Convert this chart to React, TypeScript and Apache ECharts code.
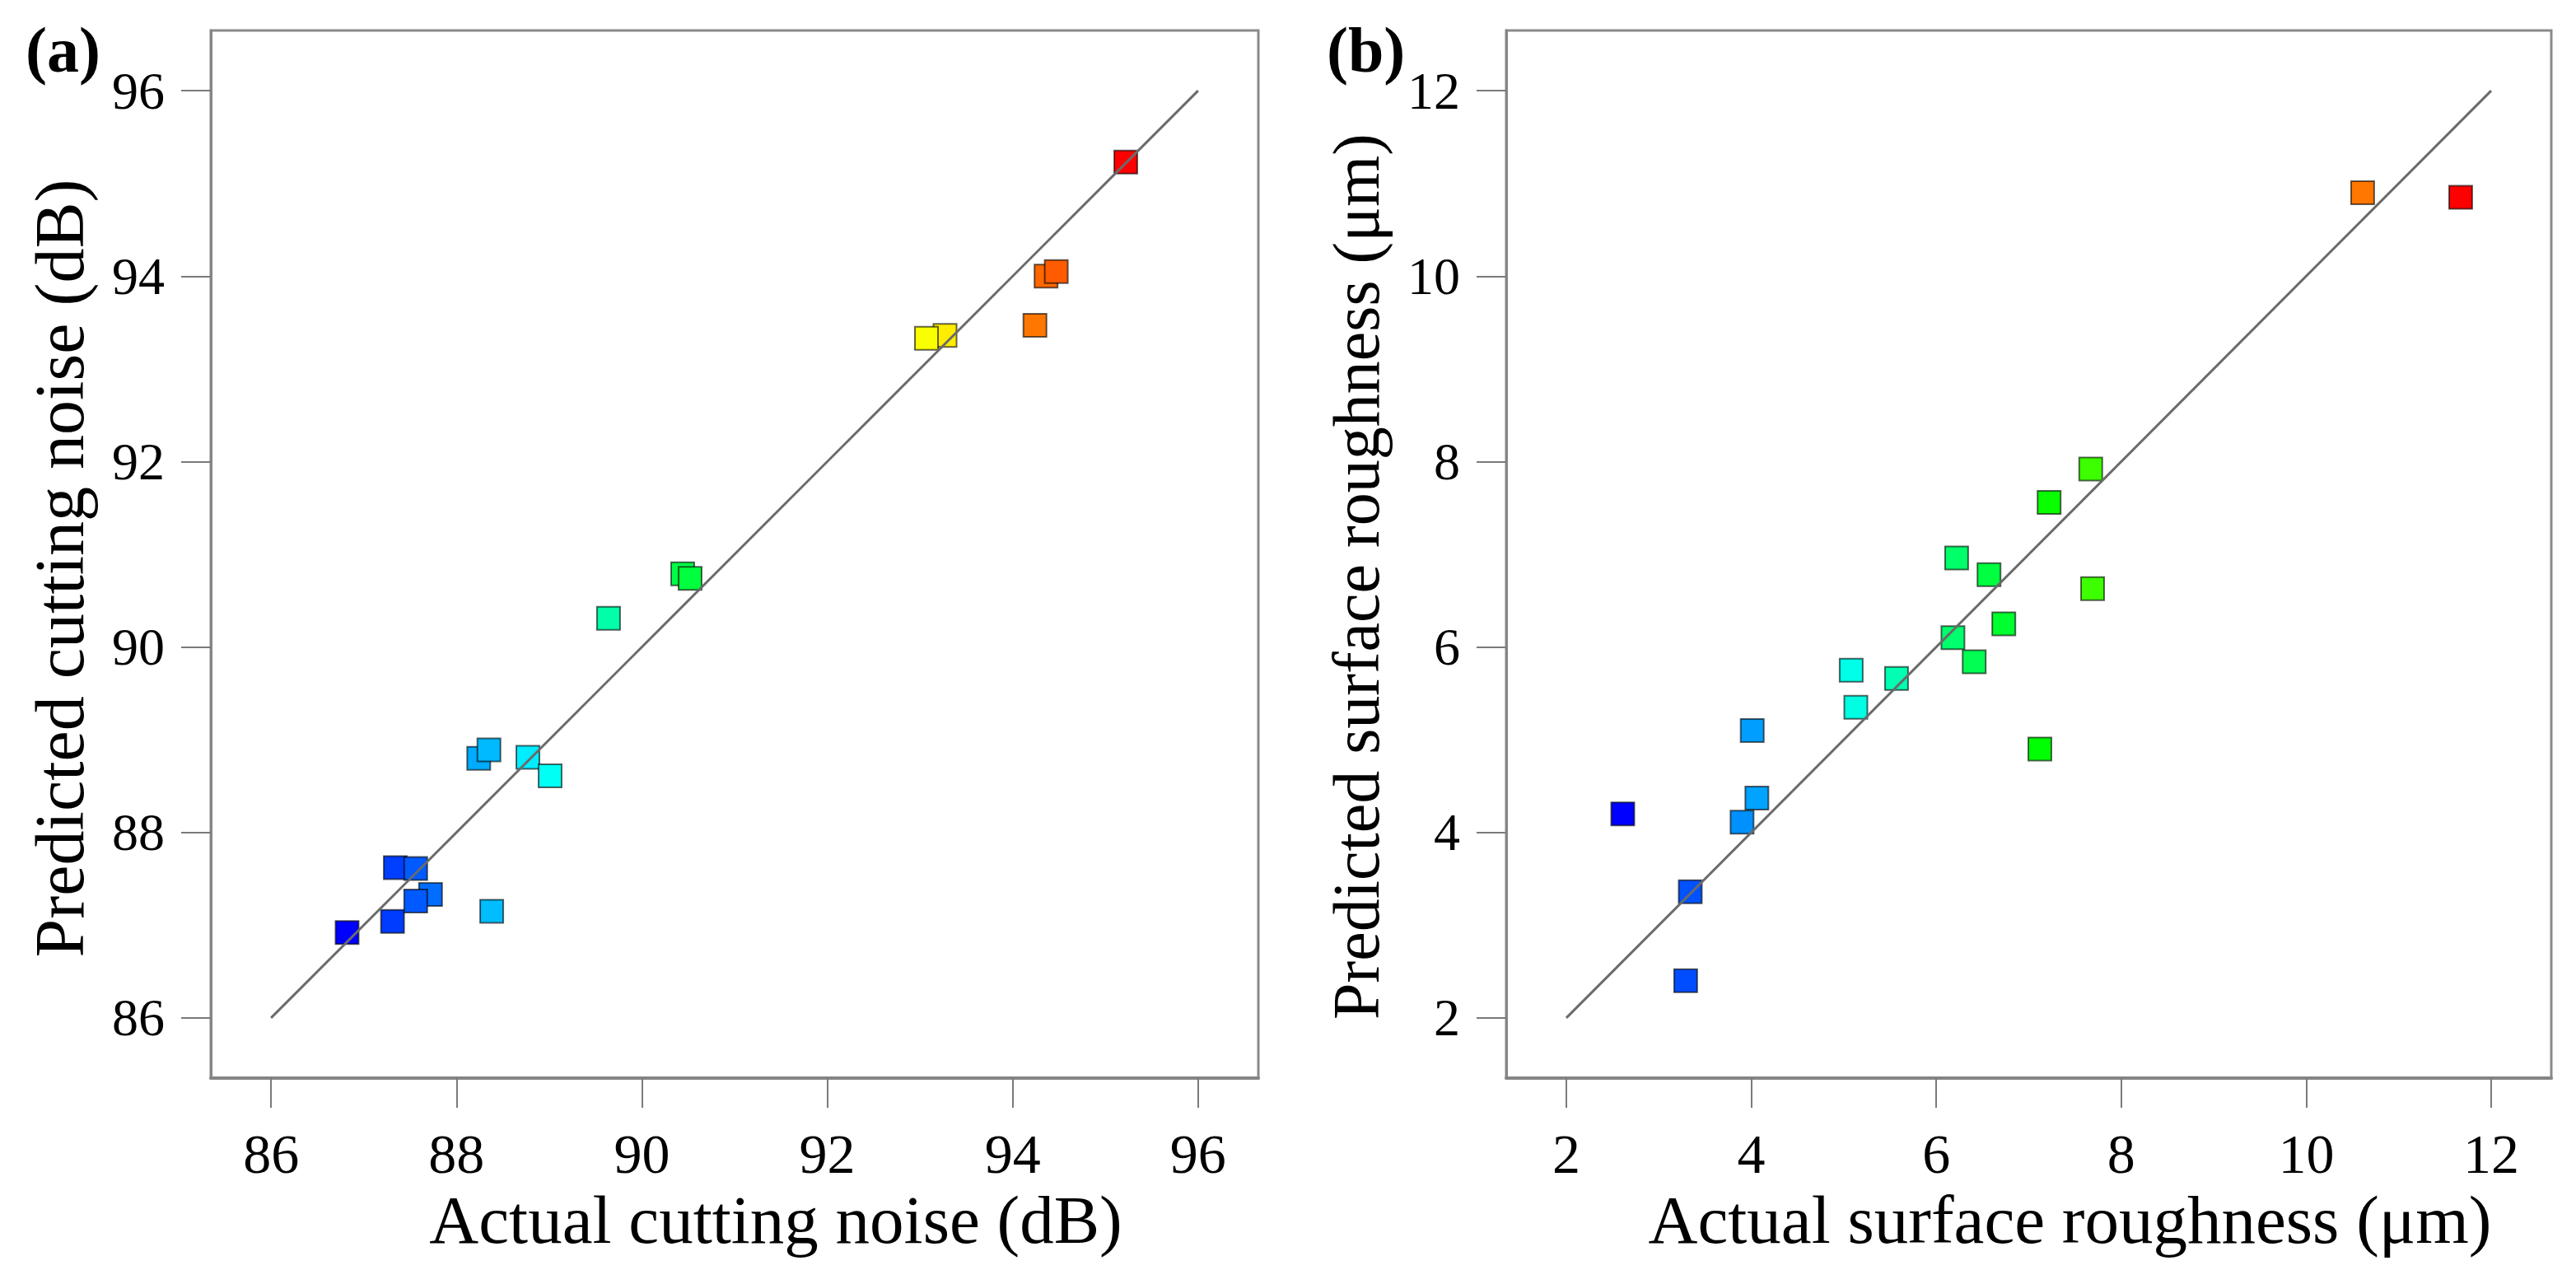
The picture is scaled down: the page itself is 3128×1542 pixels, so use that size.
import React, { useEffect, useRef } from "react";
import * as echarts from "echarts";

// Panel (a): cutting noise (dB)
const actualNoise = [86.82, 87.31, 87.34, 87.56, 87.72, 87.56, 88.38, 88.24, 88.35, 88.77, 89.01, 89.64, 90.44, 90.52, 93.27, 93.07, 94.24, 94.36, 94.47, 95.22];
const predictedNoise = [86.92, 87.04, 87.62, 87.61, 87.33, 87.26, 87.15, 88.80, 88.89, 88.81, 88.61, 90.31, 90.79, 90.74, 93.36, 93.33, 93.47, 94.00, 94.05, 95.23];
const ticksNoise = [86, 88, 90, 92, 94, 96];
const parityNoise = [86, 96];

// Panel (b): surface roughness (μm)
const actualRough = [2.61, 3.29, 3.34, 3.90, 4.06, 4.01, 5.08, 5.13, 5.57, 6.18, 6.41, 6.22, 6.57, 6.73, 7.12, 7.69, 7.22, 7.67, 10.61, 11.67];
const predictedRough = [4.20, 2.40, 3.36, 4.11, 4.37, 5.10, 5.75, 5.35, 5.66, 6.10, 5.84, 6.96, 6.78, 6.25, 4.90, 6.63, 7.56, 7.92, 10.90, 10.85];
const ticksRough = [2, 4, 6, 8, 10, 12];
const parityRough = [2, 12];

const colorScale = ["#0000ff", "#00ffff", "#00ff00", "#ffff00", "#ff0000"];
const FONT = '"Liberation Serif", "Times New Roman", serif';

function pairs(xs: number[], ys: number[]) {
  return xs.map((x, i) => [x, ys[i]]);
}

function makeX(gridIndex: number, min: number, max: number, ticks: number[], name: string) {
  return {
    type: "value",
    gridIndex,
    min,
    max,
    name,
    nameLocation: "middle",
    nameGap: 128,
    nameTextStyle: { fontSize: 83, lineHeight: 83, fontFamily: FONT, color: "#000", padding: [0, 0, 0, 100] },
    axisLine: { show: true, lineStyle: { color: "#858585", width: 4 } },
    axisTick: { show: true, customValues: ticks, length: 36, lineStyle: { color: "#7a7a7a", width: 2 } },
    axisLabel: { customValues: ticks, margin: 58, fontSize: 68, lineHeight: 68, fontFamily: FONT, color: "#000" },
    splitLine: { show: false },
  };
}

function makeY(gridIndex: number, min: number, max: number, ticks: number[], name: string, shift: number, size: number) {
  return {
    type: "value",
    gridIndex,
    min,
    max,
    name,
    nameLocation: "middle",
    nameGap: 142,
    nameRotate: 90,
    nameTextStyle: { fontSize: size, lineHeight: size, fontFamily: FONT, color: "#000", padding: [0, shift, 0, 0] },
    axisLine: { show: true, lineStyle: { color: "#858585", width: 3 } },
    axisTick: { show: true, customValues: ticks, length: 36, lineStyle: { color: "#7a7a7a", width: 2 } },
    axisLabel: { customValues: ticks, margin: 56, fontSize: 64, lineHeight: 64, fontFamily: FONT, color: "#000" },
    splitLine: { show: false },
  };
}

export default function App() {
  const ref = useRef<HTMLDivElement>(null);
  useEffect(() => {
    if (!ref.current) return;
    const chart = echarts.init(ref.current, null, { renderer: "svg" });
    const scatterStyle = { borderColor: "rgba(0,0,0,0.6)", borderWidth: 2, opacity: 1 };
    chart.setOption({
      animation: false,
      backgroundColor: "#ffffff",
      grid: [
        { left: 256, top: 37, width: 1272, height: 1272, show: true, borderColor: "#8a8a8a", borderWidth: 3 },
        { left: 1829, top: 37, width: 1269, height: 1272, show: true, borderColor: "#8a8a8a", borderWidth: 3 },
      ],
      xAxis: [
        makeX(0, 85.35, 96.65, ticksNoise, "Actual cutting noise (dB)"),
        makeX(1, 1.35, 12.65, ticksRough, "Actual surface roughness (μm)"),
      ],
      yAxis: [
        makeY(0, 85.35, 96.65, ticksNoise, "Predicted cutting noise (dB)", 34, 84),
        makeY(1, 1.35, 12.65, ticksRough, "Predicted surface roughness (μm)", 54, 80),
      ],
      visualMap: [
        {
          type: "continuous",
          show: false,
          seriesIndex: 0,
          dimension: 0,
          min: Math.min(...actualNoise),
          max: Math.max(...actualNoise),
          inRange: { color: colorScale },
        },
        {
          type: "continuous",
          show: false,
          seriesIndex: 2,
          dimension: 0,
          min: Math.min(...actualRough),
          max: Math.max(...actualRough),
          inRange: { color: colorScale },
        },
      ],
      graphic: [
        { type: "text", x: 31, y: 21, style: { text: "(a)", font: `bold 78px ${FONT}`, fill: "#000", align: "left", verticalAlign: "top" } },
        { type: "text", x: 1611, y: 21, style: { text: "(b)", font: `bold 78px ${FONT}`, fill: "#000", align: "left", verticalAlign: "top" } },
      ],
      series: [
        {
          type: "scatter",
          xAxisIndex: 0,
          yAxisIndex: 0,
          symbol: "rect",
          symbolSize: 28,
          itemStyle: scatterStyle,
          data: pairs(actualNoise, predictedNoise),
          z: 2,
        },
        {
          type: "line",
          xAxisIndex: 0,
          yAxisIndex: 0,
          symbol: "none",
          lineStyle: { color: "#6a6a6a", width: 3 },
          data: pairs(parityNoise, parityNoise),
          z: 3,
        },
        {
          type: "scatter",
          xAxisIndex: 1,
          yAxisIndex: 1,
          symbol: "rect",
          symbolSize: 28,
          itemStyle: scatterStyle,
          data: pairs(actualRough, predictedRough),
          z: 2,
        },
        {
          type: "line",
          xAxisIndex: 1,
          yAxisIndex: 1,
          symbol: "none",
          lineStyle: { color: "#6a6a6a", width: 3 },
          data: pairs(parityRough, parityRough),
          z: 3,
        },
      ],
    });
    return () => chart.dispose();
  }, []);
  return (
    <div
      ref={ref}
      style={{ position: "fixed", left: 0, top: 0, width: 3128, height: 1542, background: "#fff" }}
    />
  );
}
